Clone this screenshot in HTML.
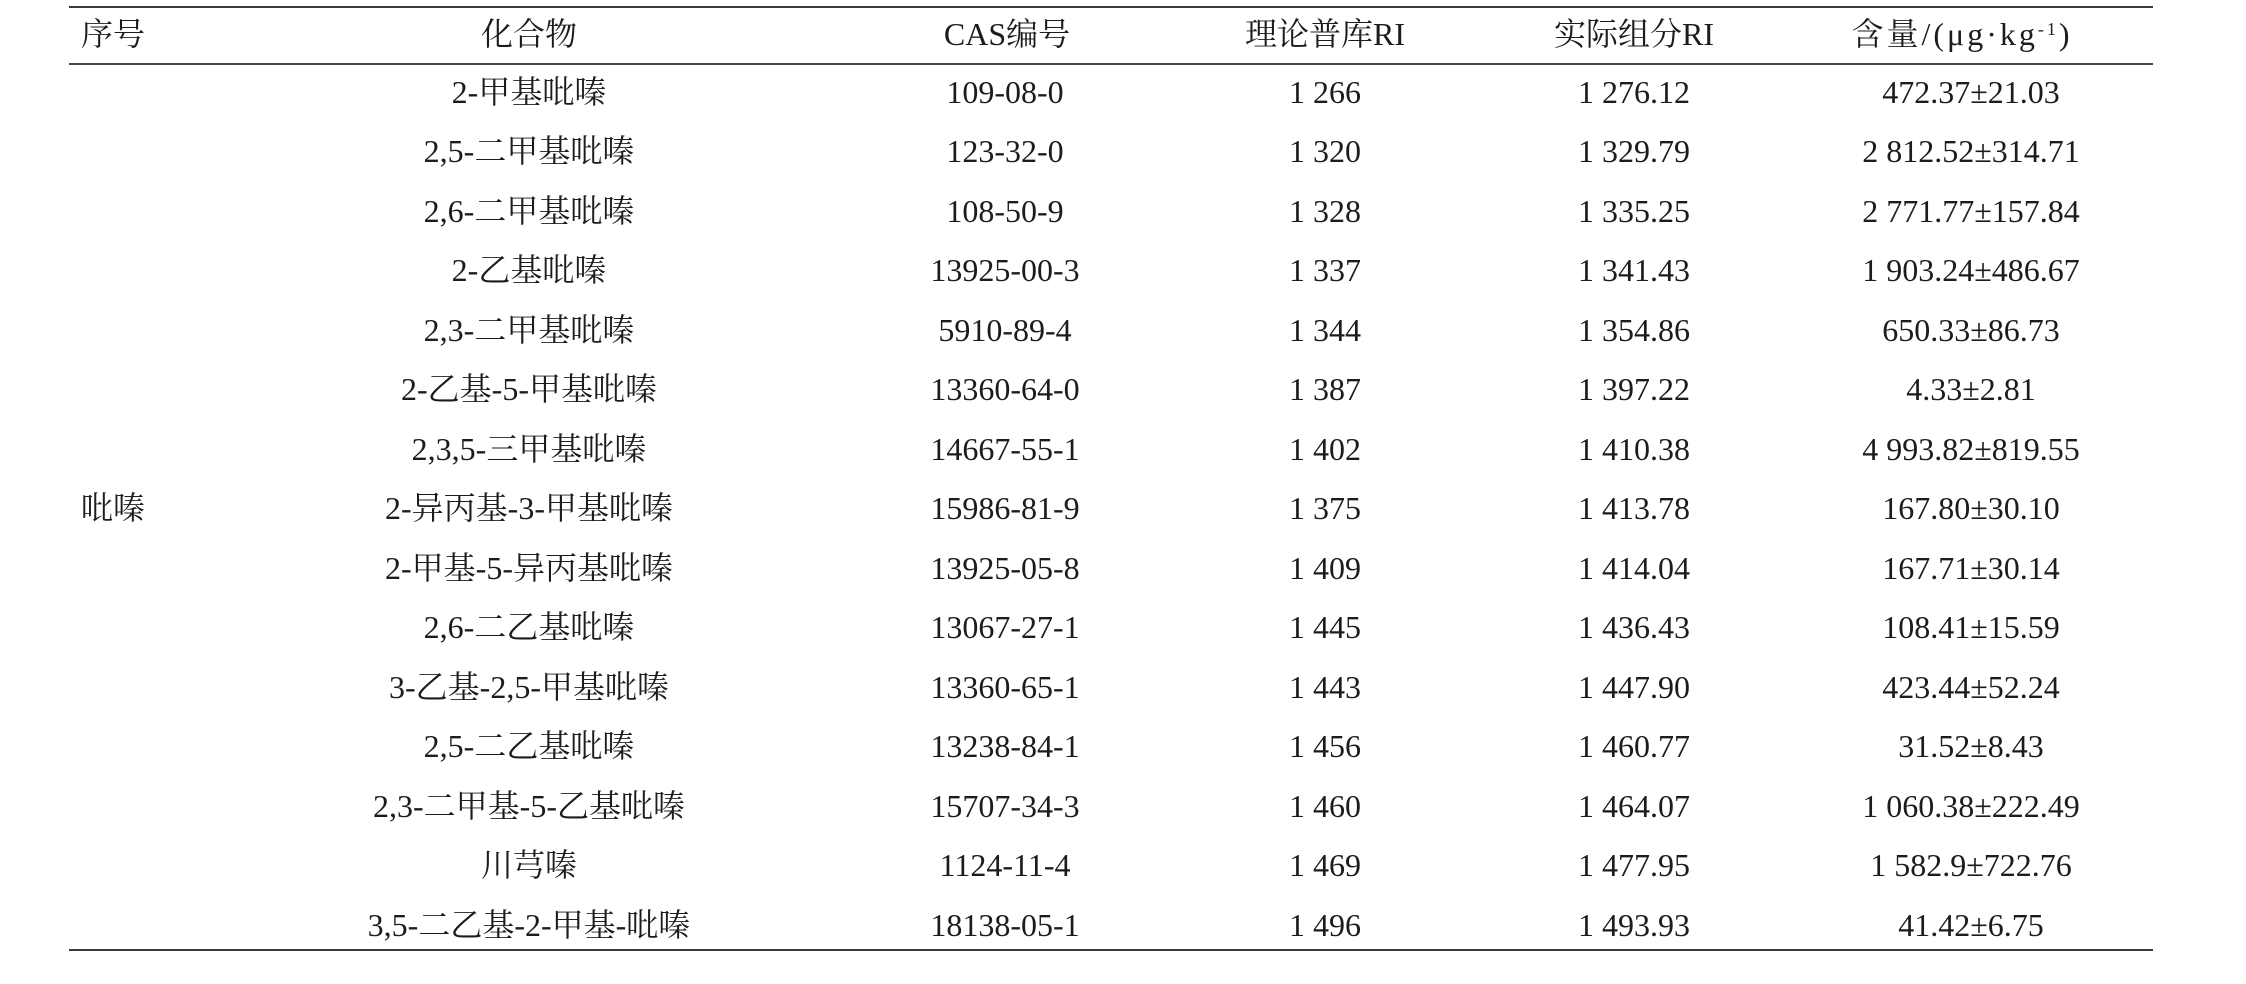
<!DOCTYPE html>
<html>
<head>
<meta charset="utf-8">
<style>
  html, body { margin: 0; padding: 0; background: #fff; }
  body { width: 2246px; height: 984px; position: relative; overflow: hidden;
         font-family: "Liberation Serif", "Noto Serif CJK SC", serif; color: #1c1c1c; }
  .line { position: absolute; left: 69px; width: 2084px; background: #3a3a3a; }
  .r { position: absolute; left: 0; width: 2246px; height: 32px; line-height: 32px; font-size: 32px; }
  .r span.c { position: absolute; top: 0; white-space: nowrap; transform: translateX(-50%); }
  .c1 { left: 113px; }
  .c2 { left: 529px; }
  .c3 { left: 1005px; }
  .c4 { left: 1325px; }
  .c5 { left: 1634px; }
  .c6 { left: 1971px; }
  sup { font-size: 18px; line-height: 0; position: relative; vertical-align: 10px; }
</style>
</head>
<body>
<div class="line" style="top:6px;height:2px;"></div>
<div class="line" style="top:63px;height:2px;background:#4a4a4a;"></div>
<div class="line" style="top:949px;height:2px;"></div>

<div class="r" style="top:18px;">
  <span class="c c1">序号</span><span class="c c2">化合物</span><span class="c c3" style="left:1007px;">CAS编号</span><span class="c c4">理论普库RI</span><span class="c c5">实际组分RI</span><span class="c" style="left:1962px;letter-spacing:3px;">含量/(μg·kg<sup>-1</sup>)</span>
</div>

<div class="r" style="top:75.5px;"><span class="c c2">2-甲基吡嗪</span><span class="c c3">109-08-0</span><span class="c c4">1 266</span><span class="c c5">1 276.12</span><span class="c c6">472.37±21.03</span></div>
<div class="r" style="top:135px;"><span class="c c2">2,5-二甲基吡嗪</span><span class="c c3">123-32-0</span><span class="c c4">1 320</span><span class="c c5">1 329.79</span><span class="c c6">2 812.52±314.71</span></div>
<div class="r" style="top:194.5px;"><span class="c c2">2,6-二甲基吡嗪</span><span class="c c3">108-50-9</span><span class="c c4">1 328</span><span class="c c5">1 335.25</span><span class="c c6">2 771.77±157.84</span></div>
<div class="r" style="top:254px;"><span class="c c2">2-乙基吡嗪</span><span class="c c3">13925-00-3</span><span class="c c4">1 337</span><span class="c c5">1 341.43</span><span class="c c6">1 903.24±486.67</span></div>
<div class="r" style="top:313.5px;"><span class="c c2">2,3-二甲基吡嗪</span><span class="c c3">5910-89-4</span><span class="c c4">1 344</span><span class="c c5">1 354.86</span><span class="c c6">650.33±86.73</span></div>
<div class="r" style="top:373px;"><span class="c c2">2-乙基-5-甲基吡嗪</span><span class="c c3">13360-64-0</span><span class="c c4">1 387</span><span class="c c5">1 397.22</span><span class="c c6">4.33±2.81</span></div>
<div class="r" style="top:432.5px;"><span class="c c2">2,3,5-三甲基吡嗪</span><span class="c c3">14667-55-1</span><span class="c c4">1 402</span><span class="c c5">1 410.38</span><span class="c c6">4 993.82±819.55</span></div>
<div class="r" style="top:492px;"><span class="c c1">吡嗪</span><span class="c c2">2-异丙基-3-甲基吡嗪</span><span class="c c3">15986-81-9</span><span class="c c4">1 375</span><span class="c c5">1 413.78</span><span class="c c6">167.80±30.10</span></div>
<div class="r" style="top:551.5px;"><span class="c c2">2-甲基-5-异丙基吡嗪</span><span class="c c3">13925-05-8</span><span class="c c4">1 409</span><span class="c c5">1 414.04</span><span class="c c6">167.71±30.14</span></div>
<div class="r" style="top:611px;"><span class="c c2">2,6-二乙基吡嗪</span><span class="c c3">13067-27-1</span><span class="c c4">1 445</span><span class="c c5">1 436.43</span><span class="c c6">108.41±15.59</span></div>
<div class="r" style="top:670.5px;"><span class="c c2">3-乙基-2,5-甲基吡嗪</span><span class="c c3">13360-65-1</span><span class="c c4">1 443</span><span class="c c5">1 447.90</span><span class="c c6">423.44±52.24</span></div>
<div class="r" style="top:730px;"><span class="c c2">2,5-二乙基吡嗪</span><span class="c c3">13238-84-1</span><span class="c c4">1 456</span><span class="c c5">1 460.77</span><span class="c c6">31.52±8.43</span></div>
<div class="r" style="top:789.5px;"><span class="c c2">2,3-二甲基-5-乙基吡嗪</span><span class="c c3">15707-34-3</span><span class="c c4">1 460</span><span class="c c5">1 464.07</span><span class="c c6">1 060.38±222.49</span></div>
<div class="r" style="top:849px;"><span class="c c2">川芎嗪</span><span class="c c3">1124-11-4</span><span class="c c4">1 469</span><span class="c c5">1 477.95</span><span class="c c6">1 582.9±722.76</span></div>
<div class="r" style="top:908.5px;"><span class="c c2">3,5-二乙基-2-甲基-吡嗪</span><span class="c c3">18138-05-1</span><span class="c c4">1 496</span><span class="c c5">1 493.93</span><span class="c c6">41.42±6.75</span></div>
</body>
</html>
